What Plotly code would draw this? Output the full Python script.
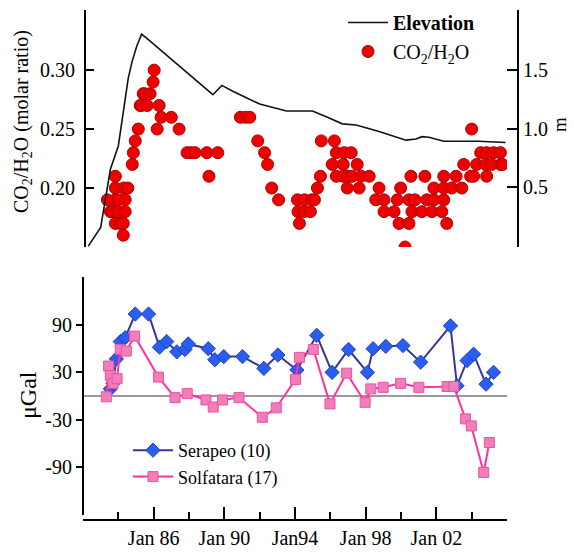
import plotly.graph_objects as go

# ---------------- data ----------------
co2_year = [1983.38, 1983.55, 1983.66, 1983.83, 1983.83, 1983.83, 1983.90, 1983.83, 1984.00, 1984.00,
            1984.10, 1984.28, 1984.28, 1984.39, 1984.39, 1984.30, 1984.54, 1984.79, 1984.85, 1984.96,
            1985.13, 1985.24, 1985.30, 1985.41, 1985.48, 1985.63, 1985.80, 1985.97, 1986.03, 1986.20,
            1986.31, 1986.42, 1987.00, 1987.44, 1987.89, 1988.10, 1988.34, 1989.01, 1989.63, 1989.13,
            1990.91, 1991.20, 1991.44, 1991.89, 1992.28, 1992.45, 1992.68, 1993.07, 1994.14, 1994.17,
            1994.25, 1994.54, 1994.50, 1994.87, 1994.95, 1995.10, 1995.27, 1995.44, 1995.49, 1996.23,
            1996.34, 1996.79, 1997.18, 1996.11, 1996.73, 1997.52, 1996.34, 1996.73, 1997.00, 1997.24,
            1997.75, 1996.96, 1997.63, 1998.20, 1998.76, 1998.57, 1999.04, 1999.04, 1999.61, 1999.79,
            1999.98, 1999.89, 2000.45, 2000.23, 2000.56, 2001.35, 2000.45, 2000.79, 2001.46, 2000.62,
            2001.18, 2001.75, 2001.86, 2001.86, 2002.31, 2002.59, 2002.42, 2002.42, 2002.42, 2003.12,
            2002.87, 2003.44, 2003.55, 2003.94, 2004.11, 2004.28, 2004.85, 2004.51, 2004.85, 2005.24,
            2005.63, 2004.79, 2005.13, 2005.63, 2005.75, 2004.00]
co2_ratio = [0.19, 0.18, 0.18, 0.21, 0.20, 0.19, 0.18, 0.17, 0.19, 0.18,
             0.17, 0.17, 0.16, 0.19, 0.18, 0.20, 0.20, 0.22, 0.23, 0.24,
             0.25, 0.27, 0.27, 0.28, 0.28, 0.27, 0.28, 0.29, 0.30, 0.25,
             0.27, 0.26, 0.26, 0.25, 0.23, 0.23, 0.23, 0.23, 0.23, 0.21,
             0.26, 0.26, 0.26, 0.24, 0.23, 0.22, 0.20, 0.19, 0.19, 0.18,
             0.17, 0.19, 0.18, 0.18, 0.19, 0.19, 0.20, 0.21, 0.24, 0.24,
             0.23, 0.23, 0.23, 0.22, 0.22, 0.22, 0.21, 0.21, 0.21, 0.21,
             0.21, 0.20, 0.20, 0.21, 0.20, 0.19, 0.19, 0.18, 0.18, 0.19,
             0.20, 0.17, 0.17, 0.15, 0.21, 0.21, 0.19, 0.19, 0.19, 0.18,
             0.18, 0.18, 0.20, 0.19, 0.18, 0.17, 0.20, 0.21, 0.19, 0.21,
             0.20, 0.20, 0.22, 0.21, 0.21, 0.22, 0.21, 0.23, 0.23, 0.23,
             0.23, 0.22, 0.22, 0.22, 0.22, 0.25]

elev_year = [1982.30, 1983.00, 1983.55, 1983.83, 1984.00, 1984.56, 1984.77, 1985.05, 1985.32, 1985.80,
             1986.73, 1987.89, 1989.35, 1989.86, 1990.48, 1992.00, 1993.52, 1994.25, 1994.99, 1995.77,
             1996.68, 1997.46, 1998.76, 2000.28, 2000.85, 2001.18, 2001.58, 2002.42, 2004.39, 2005.92]
elev_m = [-0.01, 0.15, 0.65, 0.77, 0.85, 1.43, 1.57, 1.71, 1.81, 1.75,
          1.63, 1.48, 1.29, 1.37, 1.32, 1.21, 1.15, 1.15, 1.15, 1.10,
          1.04, 1.03, 0.975, 0.90, 0.91, 0.93, 0.925, 0.89, 0.89, 0.88]

ser_year = [1983.55, 1983.70, 1983.89, 1984.11, 1984.39, 1984.96, 1985.71, 1986.33, 1986.74, 1987.31,
            1987.77, 1987.96, 1989.09, 1989.46, 1989.97, 1991.03, 1992.24, 1993.03, 1994.11, 1995.23,
            1996.10, 1997.03, 1998.10, 1998.42, 1999.14, 2000.11, 2001.11, 2002.80, 2003.17, 2003.74,
            2004.11, 2004.81, 2005.24]
ser_ugal = [9, 16, 47, 69, 74, 104, 104, 62, 69, 56,
            59, 66, 60, 46, 50, 50, 35, 52, 33, 77,
            30, 59, 30, 60, 63, 64, 43, 89, 13, 45,
            53, 15, 30]

sol_year = [1983.32, 1983.45, 1983.55, 1983.70, 1983.93, 1984.11, 1984.45, 1984.92, 1986.27, 1987.21,
            1987.90, 1988.96, 1989.37, 1989.90, 1990.83, 1992.15, 1992.94, 1994.03, 1994.25, 1995.04,
            1995.98, 1996.92, 1997.97, 1998.29, 1998.99, 1999.98, 2001.01, 2002.61, 2002.99, 2003.65,
            2003.98, 2004.68, 2005.00]
sol_ugal = [-1, 38, 26, 16, 22, 59, 57, 76, 24, -2,
            3, -5, -14, -5, -2, -27, -15, 21, 49, 59,
            -10, 29, -8, 9, 11, 16, 11, 12, 12, -29,
            -38, -97, -59]

x_tickvals = [1986, 1990, 1994, 1998, 2002, 2006]
x_ticktext = ["Jan 86", "Jan 90", "Jan94", "Jan 98", "Jan 02", ""]
co2_ticks = [0.20, 0.25, 0.30]
elev_ticks = [0.5, 1.0, 1.5]
grav_ticks = [-90, -30, 30, 90]

# ---------------- geometry (paper spans x 83..518 px, y 3..520 px) ----------------
W, H = 574, 560
ML, MR, MT, MB = 83, 56, 3, 40
PW, PH = W - ML - MR, H - MT - MB


def px(x):
    return (x - ML) / PW


def py(y):
    return (H - MB - y) / PH


FONT = "Liberation Serif"
BLACK = "#000000"
XDOM = [0, px(507)]
XR = [1982, 2006]

fig = go.Figure()

fig.add_trace(go.Scatter(
    x=elev_year, y=elev_m, mode="lines", name="<b>Elevation</b>",
    line=dict(color="#111111", width=1.6),
    xaxis="x2", yaxis="y3", legend="legend"))
fig.add_trace(go.Scatter(
    x=co2_year, y=co2_ratio, mode="markers", name="CO<sub>2</sub>/H<sub>2</sub>O",
    marker=dict(symbol="circle", size=12, color="#ee0000",
                line=dict(color="#b00000", width=1)),
    xaxis="x2", yaxis="y2", legend="legend"))

fig.add_trace(go.Scatter(
    x=ser_year, y=ser_ugal, mode="lines+markers", name="Serapeo (10)",
    line=dict(color="#35359a", width=2),
    marker=dict(symbol="diamond", size=11, color="#2a5ef0",
                line=dict(color="#1e44c0", width=1)),
    xaxis="x", yaxis="y", legend="legend2"))
fig.add_trace(go.Scatter(
    x=sol_year, y=sol_ugal, mode="lines+markers", name="Solfatara (17)",
    line=dict(color="#ff3399", width=2),
    marker=dict(symbol="square", size=10, color="#f27cbc",
                line=dict(color="#e6559e", width=1)),
    xaxis="x", yaxis="y", legend="legend2"))

axis_font = dict(family=FONT, size=20, color=BLACK)

fig.update_layout(
    width=W, height=H,
    margin=dict(l=ML, r=MR, t=MT, b=MB),
    paper_bgcolor="white", plot_bgcolor="rgba(0,0,0,0)",
    font=dict(family=FONT, size=20, color=BLACK),
    shapes=[dict(type="line", xref="x", yref="y", x0=XR[0], x1=XR[1], y0=0, y1=0,
                 line=dict(color="#9a9a9a", width=2), layer="below")],
    xaxis=dict(domain=XDOM, range=XR, anchor="free", position=0,
               showline=True, linecolor=BLACK, linewidth=2, showgrid=False, zeroline=False,
               tickmode="array", tickvals=x_tickvals, ticktext=x_ticktext,
               ticks="inside", ticklen=12, tickwidth=2, tickcolor=BLACK,
               minor=dict(tickmode="linear", tick0=1982, dtick=2, ticks="inside",
                          ticklen=7, tickwidth=2, tickcolor=BLACK, showgrid=False),
               tickfont=axis_font),
    xaxis3=dict(domain=XDOM, range=XR, overlaying="x", side="top", anchor="free",
                position=py(261), showline=True, linecolor=BLACK, linewidth=2,
                showgrid=False, zeroline=False, showticklabels=False,
                tickmode="array", tickvals=x_tickvals,
                ticks="inside", ticklen=12, tickwidth=2, tickcolor=BLACK,
                minor=dict(tickmode="linear", tick0=1982, dtick=2, ticks="inside",
                           ticklen=7, tickwidth=2, tickcolor=BLACK, showgrid=False)),
    yaxis=dict(domain=[py(515), py(277)], range=[-151, 151], anchor="free", position=0,
               showline=True, linecolor=BLACK, linewidth=2, showgrid=False, zeroline=False,
               tickmode="array", tickvals=grav_ticks, ticktext=[str(v) for v in grav_ticks],
               ticks="outside", ticklen=6, tickwidth=2, tickcolor=BLACK, tickfont=axis_font),
    xaxis2=dict(domain=XDOM, range=XR, anchor="y2", visible=False),
    yaxis2=dict(domain=[py(247), py(10)], range=[0.15, 0.351], anchor="free", position=px(85),
                showline=True, linecolor=BLACK, linewidth=2, showgrid=False, zeroline=False,
                tickmode="array", tickvals=co2_ticks, ticktext=["%.2f" % v for v in co2_ticks],
                ticks="inside", ticklen=8, tickwidth=2, tickcolor=BLACK, tickfont=axis_font,
                ticklabelstandoff=5),
    yaxis3=dict(domain=[py(247), py(3)], range=[-0.017, 2.017], anchor="free", position=1.0,
                overlaying="y2", side="right",
                showline=True, linecolor=BLACK, linewidth=2, showgrid=False, zeroline=False,
                tickmode="array", tickvals=elev_ticks, ticktext=["%.1f" % v for v in elev_ticks],
                ticks="inside", ticklen=10, tickwidth=2, tickcolor=BLACK, tickfont=axis_font),
    legend=dict(x=px(343), y=1.0, xanchor="left", yanchor="top",
                bgcolor="rgba(0,0,0,0)", font=dict(family=FONT, size=20, color=BLACK),
                tracegroupgap=0, itemwidth=40),
    legend2=dict(x=px(128), y=py(432), xanchor="left", yanchor="top",
                 bgcolor="rgba(0,0,0,0)", font=dict(family=FONT, size=18, color=BLACK),
                 tracegroupgap=0, itemwidth=40),
    annotations=[
        dict(text="CO<sub>2</sub>/H<sub>2</sub>O (molar ratio)", textangle=-90,
             xref="paper", yref="paper", x=px(22), y=py(122), showarrow=False,
             xanchor="center", yanchor="middle",
             font=dict(family=FONT, size=20, color=BLACK)),
        dict(text="μGal", textangle=-90,
             xref="paper", yref="paper", x=px(28), y=py(395), showarrow=False,
             xanchor="center", yanchor="middle",
             font=dict(family=FONT, size=24, color=BLACK)),
        dict(text="m", textangle=-90,
             xref="paper", yref="paper", x=px(559), y=py(125), showarrow=False,
             xanchor="center", yanchor="middle",
             font=dict(family=FONT, size=19, color=BLACK)),
    ],
)

fig.write_html("out.html")
